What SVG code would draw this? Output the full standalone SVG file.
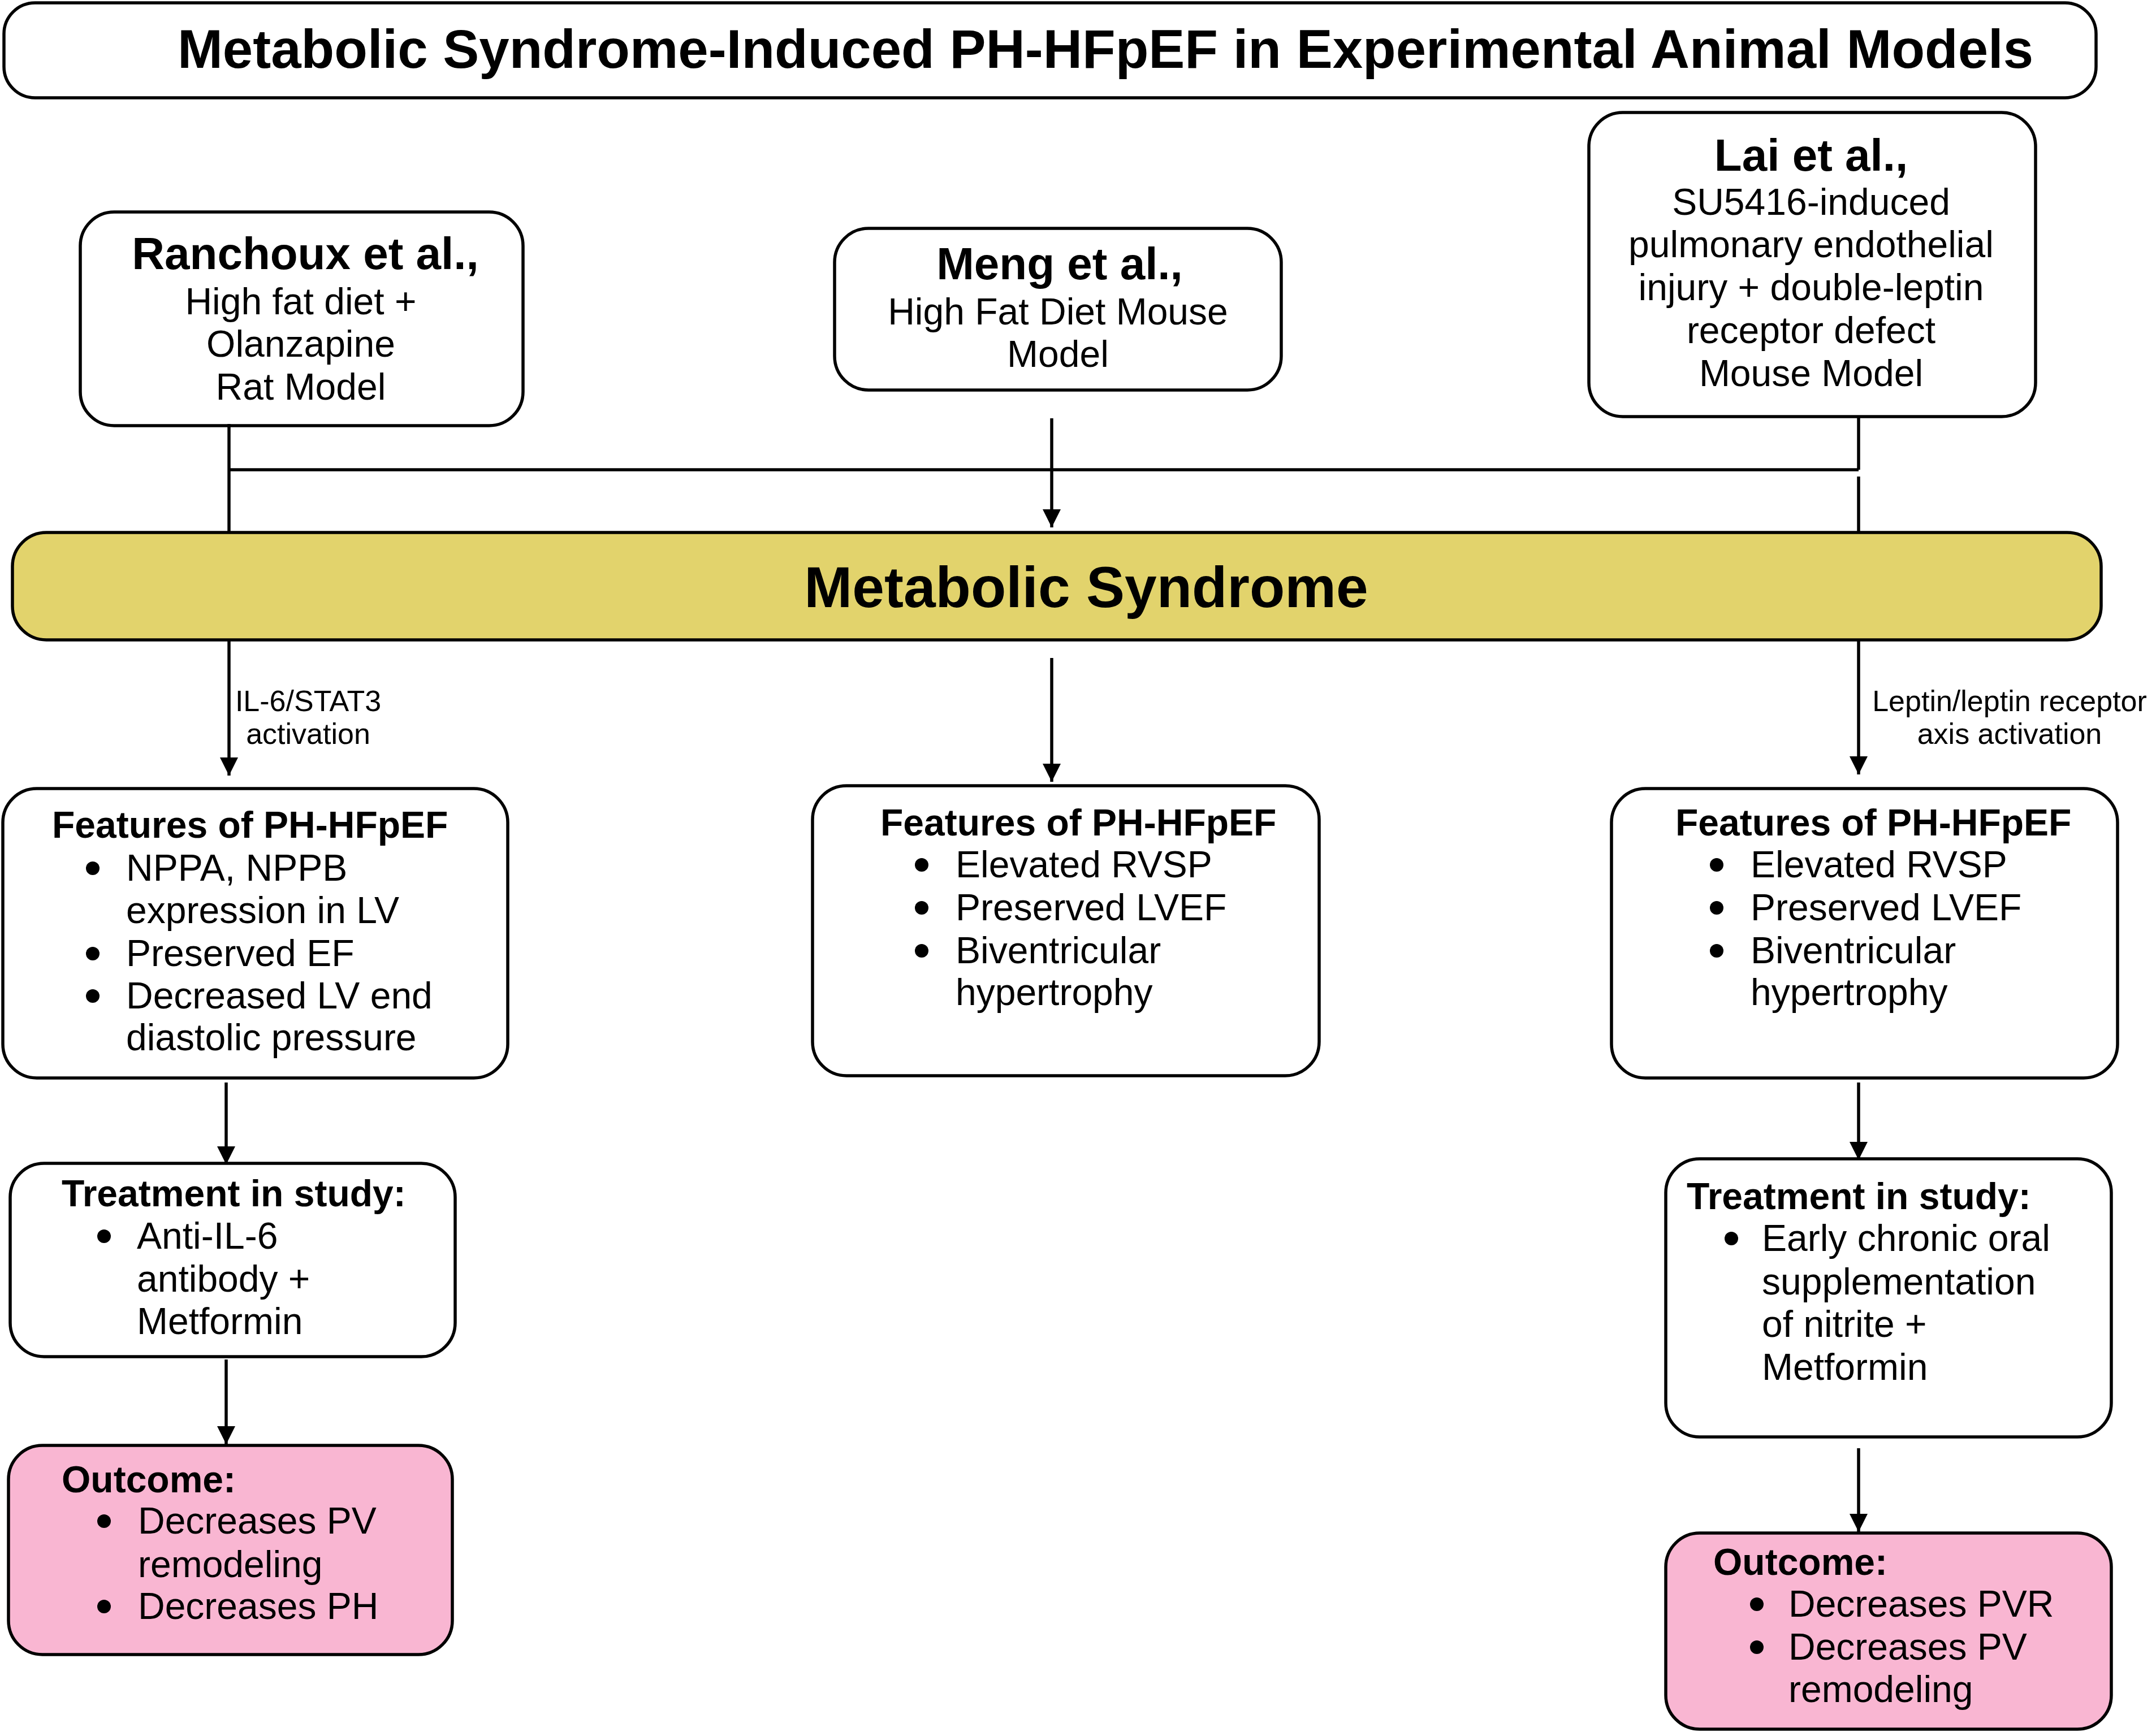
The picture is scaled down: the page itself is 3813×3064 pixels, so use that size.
<svg xmlns="http://www.w3.org/2000/svg" width="3813" height="3064" viewBox="0 0 3813 3064">
<defs>
<style>
.box{fill:#ffffff;stroke:#000;stroke-width:5.5}
.ms{fill:#E2D36C;stroke:#000;stroke-width:5.5}
.out{fill:#F9B6D2;stroke:#000;stroke-width:5.5}
.ln{stroke:#000;stroke-width:5.5;fill:none}
.ar{stroke:#000;stroke-width:5.5;fill:none;marker-end:url(#ah)}
.dot{fill:#000}
text{font-family:"Liberation Sans",Arial,Helvetica,sans-serif;fill:#000}
.t{font-size:96px;font-weight:bold}
.h{font-size:80px;font-weight:bold;text-anchor:middle}
.r{font-size:66px}
.rc{font-size:66px;text-anchor:middle}
.b{font-size:66px;font-weight:bold}
.lb{font-size:52px;text-anchor:middle}
.m{font-size:102px;font-weight:bold;text-anchor:middle}
</style>
<marker id="ah" viewBox="0 0 32 32" refX="32" refY="16" markerWidth="32" markerHeight="32" markerUnits="userSpaceOnUse" orient="auto">
<path d="M0,0 L32,16 L0,32 Z" fill="#000"/>
</marker>
</defs>
<rect width="3813" height="3064" fill="#ffffff"/>

<g id="title">
<rect class="box" x="7" y="5" width="3700" height="168" rx="55"/>
<text class="t" x="1955" y="120" text-anchor="middle">Metabolic Syndrome-Induced PH-HFpEF in Experimental Animal Models</text>
</g>

<g id="ranchoux">
<rect class="box" x="142" y="375" width="783" height="378" rx="60"/>
<text class="h" x="540" y="476">Ranchoux et al.,</text>
<text class="rc" x="532" y="556">High fat diet +</text>
<text class="rc" x="532" y="631">Olanzapine</text>
<text class="rc" x="532" y="707">Rat Model</text>
</g>

<g id="meng">
<rect class="box" x="1476" y="404" width="790" height="286" rx="60"/>
<text class="h" x="1874" y="494">Meng et al.,</text>
<text class="rc" x="1871" y="574">High Fat Diet Mouse</text>
<text class="rc" x="1871" y="649">Model</text>
</g>

<g id="lai">
<rect class="box" x="2810" y="199" width="790" height="538" rx="60"/>
<text class="h" x="3203" y="302">Lai et al.,</text>
<text class="rc" x="3203" y="380">SU5416-induced</text>
<text class="rc" x="3203" y="455">pulmonary endothelial</text>
<text class="rc" x="3203" y="531">injury + double-leptin</text>
<text class="rc" x="3203" y="607">receptor defect</text>
<text class="rc" x="3203" y="683">Mouse Model</text>
</g>

<g id="metabolic-syndrome">
<rect class="ms" x="22" y="942" width="3694" height="190" rx="60"/>
<text class="m" x="1921" y="1074">Metabolic Syndrome</text>
</g>

<g id="features-left">
<rect class="box" x="5" y="1395" width="893" height="512" rx="60"/>
<text class="b" x="92" y="1482">Features of PH-HFpEF</text>
<circle class="dot" cx="164" cy="1536" r="12"/>
<text class="r" x="223" y="1558">NPPA, NPPB</text>
<text class="r" x="223" y="1633">expression in LV</text>
<circle class="dot" cx="164" cy="1687" r="12"/>
<text class="r" x="223" y="1709">Preserved EF</text>
<circle class="dot" cx="164" cy="1762" r="12"/>
<text class="r" x="223" y="1784">Decreased LV end</text>
<text class="r" x="223" y="1858">diastolic pressure</text>
</g>

<g id="features-middle">
<rect class="box" x="1437" y="1390" width="896" height="513" rx="60"/>
<text class="b" x="1557" y="1478">Features of PH-HFpEF</text>
<circle class="dot" cx="1630" cy="1530" r="12"/>
<text class="r" x="1690" y="1552">Elevated RVSP</text>
<circle class="dot" cx="1630" cy="1606" r="12"/>
<text class="r" x="1690" y="1628">Preserved LVEF</text>
<circle class="dot" cx="1630" cy="1682" r="12"/>
<text class="r" x="1690" y="1704">Biventricular</text>
<text class="r" x="1690" y="1778">hypertrophy</text>
</g>

<g id="features-right">
<rect class="box" x="2850" y="1395" width="895" height="512" rx="60"/>
<text class="b" x="2963" y="1478">Features of PH-HFpEF</text>
<circle class="dot" cx="3036" cy="1530" r="12"/>
<text class="r" x="3096" y="1552">Elevated RVSP</text>
<circle class="dot" cx="3036" cy="1606" r="12"/>
<text class="r" x="3096" y="1628">Preserved LVEF</text>
<circle class="dot" cx="3036" cy="1682" r="12"/>
<text class="r" x="3096" y="1704">Biventricular</text>
<text class="r" x="3096" y="1778">hypertrophy</text>
</g>

<g id="treatment-left">
<rect class="box" x="18" y="2058" width="787" height="342" rx="60"/>
<text class="b" x="109" y="2134">Treatment in study:</text>
<circle class="dot" cx="184" cy="2187" r="12"/>
<text class="r" x="242" y="2209">Anti-IL-6</text>
<text class="r" x="242" y="2285">antibody +</text>
<text class="r" x="242" y="2360">Metformin</text>
</g>

<g id="outcome-left">
<rect class="out" x="15" y="2557" width="785" height="370" rx="60"/>
<text class="b" x="109" y="2640">Outcome:</text>
<circle class="dot" cx="184" cy="2691" r="12"/>
<text class="r" x="244" y="2713">Decreases PV</text>
<text class="r" x="244" y="2790">remodeling</text>
<circle class="dot" cx="184" cy="2842" r="12"/>
<text class="r" x="244" y="2864">Decreases PH</text>
</g>

<g id="treatment-right">
<rect class="box" x="2946" y="2050" width="788" height="492" rx="60"/>
<text class="b" x="2983" y="2139">Treatment in study:</text>
<circle class="dot" cx="3062" cy="2191" r="12"/>
<text class="r" x="3116" y="2213">Early chronic oral</text>
<text class="r" x="3116" y="2290">supplementation</text>
<text class="r" x="3116" y="2365">of nitrite +</text>
<text class="r" x="3116" y="2441">Metformin</text>
</g>

<g id="outcome-right">
<rect class="out" x="2946" y="2712" width="788" height="347" rx="60"/>
<text class="b" x="3030" y="2786">Outcome:</text>
<circle class="dot" cx="3107" cy="2838" r="12"/>
<text class="r" x="3163" y="2860">Decreases PVR</text>
<circle class="dot" cx="3107" cy="2914" r="12"/>
<text class="r" x="3163" y="2936">Decreases PV</text>
<text class="r" x="3163" y="3011">remodeling</text>
</g>

<g id="connectors">
<path class="ln" d="M405,750 V942"/>
<path class="ln" d="M405,831 H3287"/>
<path class="ln" d="M3287,737 V831"/>
<path class="ln" d="M3287,843 V942"/>
<path class="ar" d="M1860,740 V933"/>
<path class="ar" d="M405,1132 V1372"/>
<path class="ar" d="M1860,1164 V1383"/>
<path class="ar" d="M3287,1132 V1370"/>
<path class="ar" d="M400,1915 V2060"/>
<path class="ar" d="M400,2405 V2555"/>
<path class="ar" d="M3287,1915 V2052"/>
<path class="ar" d="M3287,2562 V2710"/>
<text class="lb" x="545" y="1258">IL-6/STAT3</text>
<text class="lb" x="545" y="1316">activation</text>
<text class="lb" x="3554" y="1258">Leptin/leptin receptor</text>
<text class="lb" x="3554" y="1316">axis activation</text>
</g>
</svg>
